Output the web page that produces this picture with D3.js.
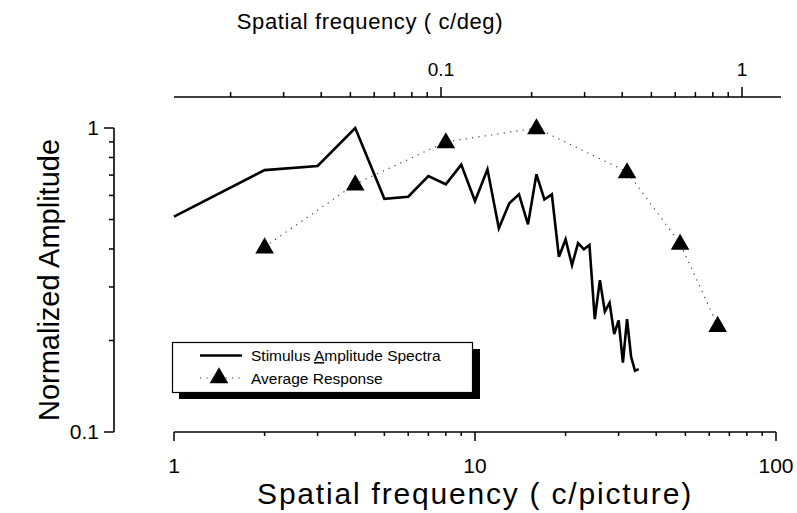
<!DOCTYPE html>
<html>
<head>
<meta charset="utf-8">
<script src="https://cdn.jsdelivr.net/npm/d3@7"></script>
<style>
  html, body { margin: 0; padding: 0; background: #fff; }
  svg { display: block; font-family: "Liberation Sans", Arial, Helvetica, sans-serif; }
</style>
</head>
<body>
<svg id="chart" width="797" height="513"></svg>
<script>
// Stimulus amplitude spectrum (normalized), c/picture
const spectrumFreq = [1, 2, 3, 4, 5, 6, 7, 8, 9, 10, 11, 12, 13, 14, 15, 16, 17, 18, 19, 20,
                      21, 22, 23, 24, 25, 26, 27, 28, 29, 30, 31, 32, 33, 34, 35];
const spectrumAmp  = [0.511, 0.727, 0.75, 1.0, 0.585, 0.594, 0.695, 0.653, 0.758, 0.575,
                      0.731, 0.468, 0.565, 0.605, 0.482, 0.704, 0.582, 0.605, 0.377, 0.43,
                      0.354, 0.418, 0.399, 0.412, 0.235, 0.316, 0.249, 0.266, 0.21, 0.233,
                      0.169, 0.235, 0.177, 0.159, 0.161];

// Average response (normalized), c/picture
const responseFreq = [2, 4, 8, 16, 32, 48, 64];
const responseAmp  = [0.406, 0.654, 0.9, 1.0, 0.717, 0.417, 0.224];

// Tick labels
const bottomTickLabels = [1, 10, 100];
const leftTickLabels = [0.1, 1];
const topTickLabels = [0.1, 1];

// c/picture per c/deg
const picturePerDeg = 77.1;

const legendLabels = ["Stimulus Amplitude Spectra", "Average Response"];

const svg = d3.select("#chart");

const x = d3.scaleLog().domain([1, 100]).range([174, 776]);
const y = d3.scaleLog().domain([0.1, 1]).range([432, 128]);
const xTop = d3.scaleLog().domain([1 / picturePerDeg, 100 / picturePerDeg]).range([174, 776]);

function minorTicks(lo, hi) {
  const out = [];
  for (let e = Math.floor(Math.log10(lo)); e <= Math.ceil(Math.log10(hi)); e++) {
    for (let m = 1; m <= 9; m++) {
      const v = m * Math.pow(10, e);
      if (v >= lo * 0.999 && v <= hi * 1.001) out.push(v);
    }
  }
  return out;
}

const axisColor = "#000";

// Bottom axis: c/picture
const bottomTicks = minorTicks(1, 100);
const gB = svg.append("g");
gB.append("line").attr("x1", x(1)).attr("x2", x(100)).attr("y1", 432).attr("y2", 432)
  .attr("stroke", axisColor).attr("stroke-width", 1.6);
gB.selectAll("line.t").data(bottomTicks).enter().append("line")
  .attr("x1", d => x(d)).attr("x2", d => x(d))
  .attr("y1", 432).attr("y2", d => bottomTickLabels.includes(d) ? 441 : 436)
  .attr("stroke", axisColor).attr("stroke-width", 1.5);
gB.selectAll("text").data(bottomTickLabels).enter().append("text")
  .attr("x", d => x(d)).attr("y", 473).attr("text-anchor", "middle")
  .attr("font-size", 21).text(d => d);

// Left axis: normalized amplitude
const leftTicks = minorTicks(0.1, 1);
const gL = svg.append("g");
gL.append("line").attr("x1", 114).attr("x2", 114).attr("y1", y(1)).attr("y2", y(0.1))
  .attr("stroke", axisColor).attr("stroke-width", 1.6);
gL.selectAll("line.t").data(leftTicks).enter().append("line")
  .attr("x1", 114).attr("x2", d => leftTickLabels.includes(d) ? 104 : 109)
  .attr("y1", d => y(d)).attr("y2", d => y(d))
  .attr("stroke", axisColor).attr("stroke-width", 1.5);
gL.selectAll("text").data(leftTickLabels).enter().append("text")
  .attr("x", 99).attr("y", d => y(d) + 7).attr("text-anchor", "end")
  .attr("font-size", 21).text(d => d);

// Top axis: c/deg
const topTicks = minorTicks(0.02, 1);
const gT = svg.append("g");
gT.append("line").attr("x1", 174).attr("x2", 781).attr("y1", 97).attr("y2", 97)
  .attr("stroke", axisColor).attr("stroke-width", 1.6);
gT.selectAll("line.t").data(topTicks).enter().append("line")
  .attr("x1", d => xTop(d)).attr("x2", d => xTop(d))
  .attr("y1", 97).attr("y2", d => topTickLabels.includes(d) ? 87 : 92)
  .attr("stroke", axisColor).attr("stroke-width", 1.5);
gT.selectAll("text").data(topTickLabels).enter().append("text")
  .attr("x", d => xTop(d)).attr("y", 76).attr("text-anchor", "middle")
  .attr("font-size", 19).text(d => d);

// Axis titles
svg.append("text").attr("x", 370).attr("y", 29).attr("text-anchor", "middle")
  .attr("font-size", 22).attr("letter-spacing", 0.6).text("Spatial frequency ( c/deg)");
svg.append("text").attr("x", 475).attr("y", 504).attr("text-anchor", "middle")
  .attr("font-size", 30).attr("letter-spacing", 1.8).text("Spatial frequency ( c/picture)");
svg.append("text").attr("transform", "translate(59,280) rotate(-90)")
  .attr("text-anchor", "middle").attr("font-size", 29).text("Normalized Amplitude");

// Average response: dotted line with triangles
const response = responseFreq.map((f, i) => ({ f, v: responseAmp[i] }));
const spectrum = spectrumFreq.map((f, i) => ({ f, v: spectrumAmp[i] }));
const lineGen = d3.line().x(d => x(d.f)).y(d => y(d.v));

svg.append("path").datum(response).attr("d", lineGen)
  .attr("fill", "none").attr("stroke", "#333").attr("stroke-width", 1.1)
  .attr("stroke-dasharray", "1.2,5.2");

// Stimulus spectrum: solid line
svg.append("path").datum(spectrum).attr("d", lineGen)
  .attr("fill", "none").attr("stroke", "#000").attr("stroke-width", 2.6)
  .attr("stroke-linejoin", "miter").attr("stroke-miterlimit", 4);

const tri = d3.symbol().type(d3.symbolTriangle).size(150);
svg.selectAll("path.tri").data(response).enter().append("path")
  .attr("class", "tri")
  .attr("d", tri)
  .attr("transform", d => `translate(${x(d.f)},${y(d.v) + 1})`)
  .attr("fill", "#000");

// Legend with drop shadow
const lg = svg.append("g");
lg.append("rect").attr("x", 179).attr("y", 349).attr("width", 301).attr("height", 50).attr("fill", "#000");
lg.append("rect").attr("x", 172.5).attr("y", 342.5).attr("width", 300).attr("height", 50)
  .attr("fill", "#fff").attr("stroke", "#000").attr("stroke-width", 1.2);
lg.append("line").attr("x1", 200).attr("x2", 242).attr("y1", 355.5).attr("y2", 355.5)
  .attr("stroke", "#000").attr("stroke-width", 2.4);
const t1 = lg.append("text").attr("x", 251).attr("y", 361).attr("font-size", 15.5);
t1.append("tspan").text("Stimulus ");
t1.append("tspan").attr("text-decoration", "underline").text("A");
t1.append("tspan").text(legendLabels[0].slice("Stimulus A".length));
lg.append("line").attr("x1", 200).attr("x2", 242).attr("y1", 378).attr("y2", 378)
  .attr("stroke", "#333").attr("stroke-width", 1.1).attr("stroke-dasharray", "1.2,5.2");
lg.append("path").attr("d", tri).attr("transform", "translate(219,378)").attr("fill", "#000");
lg.append("text").attr("x", 251).attr("y", 384).attr("font-size", 15.5).text(legendLabels[1]);
</script>
</body>
</html>
